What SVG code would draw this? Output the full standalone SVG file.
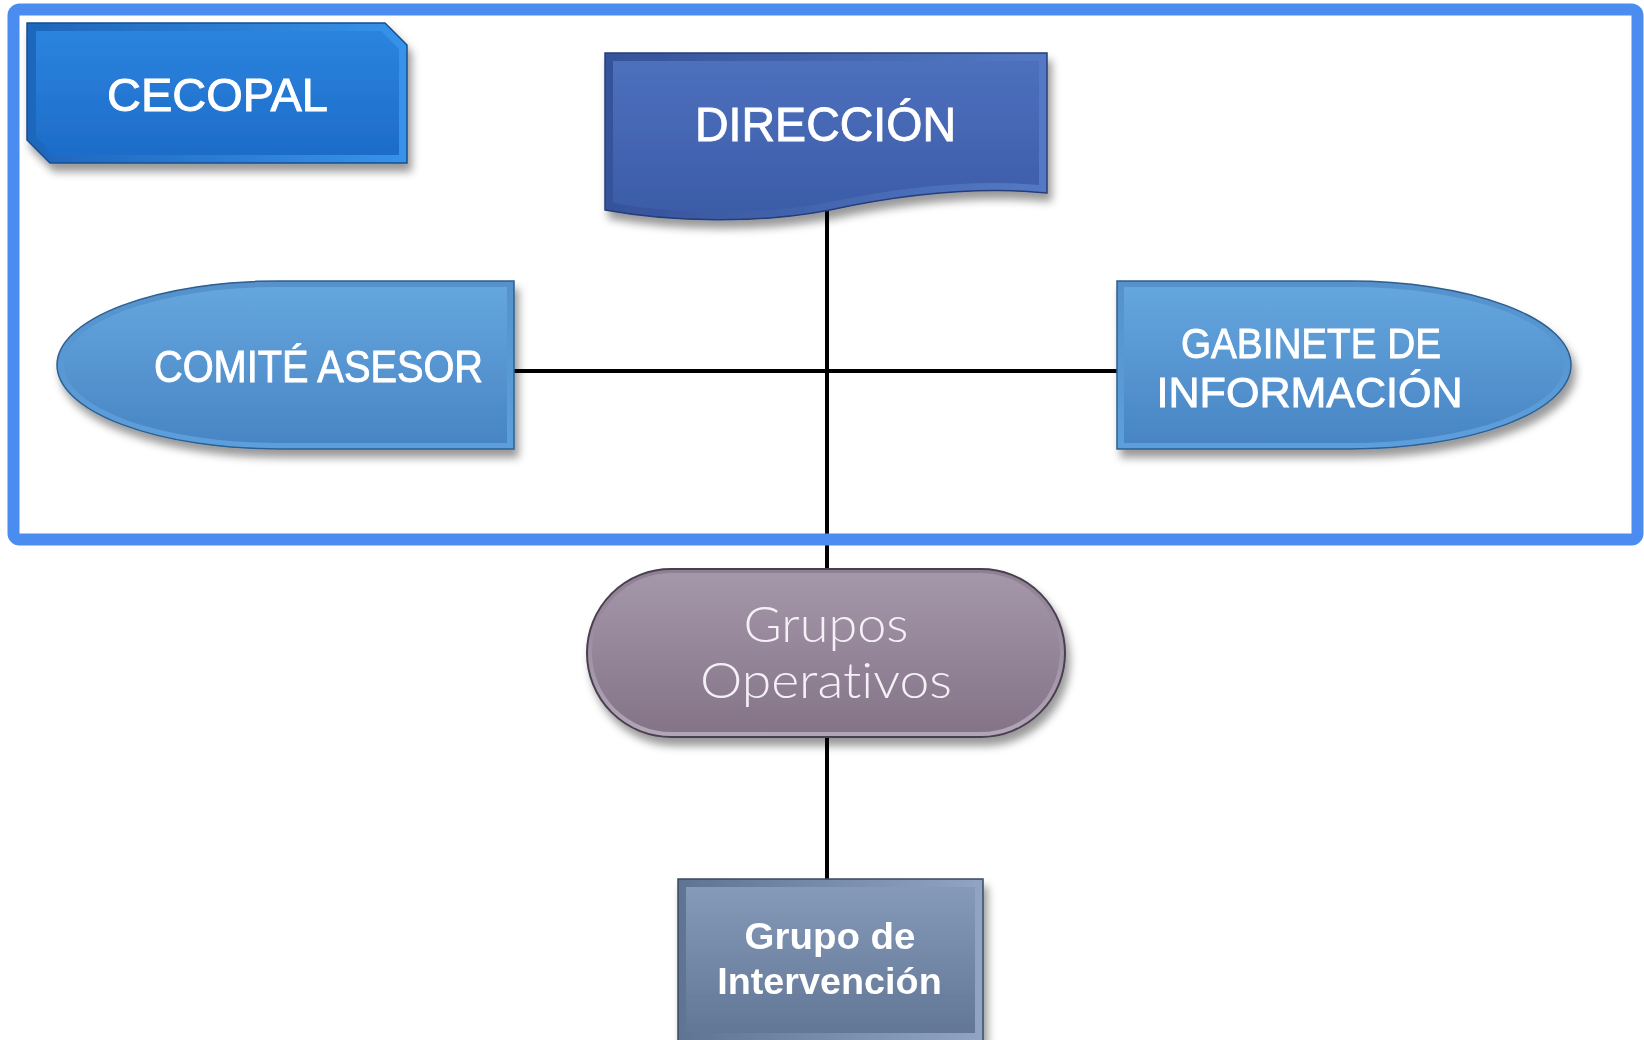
<svg xmlns="http://www.w3.org/2000/svg" width="1644" height="1040" viewBox="0 0 1644 1040">
  <defs>
    <filter id="shadow" x="-10%" y="-20%" width="125%" height="150%">
      <feDropShadow dx="4" dy="8" stdDeviation="4" flood-color="#000" flood-opacity="0.4"/>
    </filter>
    <linearGradient id="cecEdge" x1="0" y1="0" x2="1" y2="0">
      <stop offset="0" stop-color="#1e66bc"/>
      <stop offset="1" stop-color="#3793ea"/>
    </linearGradient>
    <linearGradient id="cecFace" x1="0" y1="0" x2="0" y2="1">
      <stop offset="0" stop-color="#2c84de"/>
      <stop offset="1" stop-color="#1d6cc8"/>
    </linearGradient>
    <linearGradient id="dirEdge" x1="0" y1="0" x2="1" y2="0">
      <stop offset="0" stop-color="#35529a"/>
      <stop offset="1" stop-color="#5479c4"/>
    </linearGradient>
    <linearGradient id="dirFace" x1="0" y1="0" x2="0" y2="1">
      <stop offset="0" stop-color="#4d70bd"/>
      <stop offset="1" stop-color="#3c5ca8"/>
    </linearGradient>
    <linearGradient id="lbEdge" x1="0" y1="0" x2="0" y2="1">
      <stop offset="0" stop-color="#5592cc"/>
      <stop offset="1" stop-color="#5c9fdc"/>
    </linearGradient>
    <linearGradient id="lbFace" x1="0" y1="0" x2="0" y2="1">
      <stop offset="0" stop-color="#65a6de"/>
      <stop offset="1" stop-color="#4885c4"/>
    </linearGradient>
    <linearGradient id="goFace" x1="0" y1="0" x2="0" y2="1">
      <stop offset="0" stop-color="#a597aa"/>
      <stop offset="1" stop-color="#857488"/>
    </linearGradient>
    <linearGradient id="goEdge" x1="0" y1="0" x2="0" y2="1">
      <stop offset="0" stop-color="#8e7f93"/>
      <stop offset="1" stop-color="#b3a6b8"/>
    </linearGradient>
    <linearGradient id="giFace" x1="0" y1="0" x2="0" y2="1">
      <stop offset="0" stop-color="#8599b8"/>
      <stop offset="1" stop-color="#627696"/>
    </linearGradient>
    <linearGradient id="giEdge" x1="0" y1="0" x2="1" y2="0">
      <stop offset="0" stop-color="#5f7392"/>
      <stop offset="1" stop-color="#91a4c4"/>
    </linearGradient>
  </defs>
  <style>
    .cap { font-family: "Liberation Sans", Arial, sans-serif; fill: #ffffff; stroke: #ffffff; stroke-width: 0.9; text-anchor: middle; }
    .light { font-family: Lato, "Open Sans", sans-serif; font-weight: 300; fill: #f4f0f6; text-anchor: middle; font-variant-ligatures: none; }
    .bold { font-family: "Liberation Sans", Arial, sans-serif; font-weight: bold; fill: #ffffff; text-anchor: middle; }
    .conn { stroke: #000; stroke-width: 4; fill: none; }
  </style>
  <rect width="1644" height="1040" fill="#ffffff"/>

  <g id="connectors">
    <line class="conn" x1="827" y1="205" x2="827" y2="880"/>
    <line class="conn" x1="514" y1="371" x2="1117" y2="371"/>
  </g>

  <g id="frame">
    <rect x="13.5" y="9.5" width="1624" height="530" rx="6" fill="none" stroke="#4a8cf0" stroke-width="12"/>
  </g>

  <g id="cecopal" filter="url(#shadow)">
    <polygon points="27,23 385,23 407,45 407,163 50,163 27,140" fill="url(#cecEdge)" stroke="#174d8c" stroke-width="1.5"/>
    <polygon points="36,31 381,31 399,49 399,155 53,155 36,137" fill="url(#cecFace)"/>
    <text class="cap" x="217.5" y="111" font-size="46" textLength="221" lengthAdjust="spacingAndGlyphs">CECOPAL</text>
  </g>

  <g id="direccion" filter="url(#shadow)">
    <path d="M605,53 H1047 V193 C975,186 900,195 830,210 C760,224 670,222 605,210 Z" fill="url(#dirEdge)" stroke="#263e78" stroke-width="1.5"/>
    <path d="M613,61 H1039 V185 C970,179 900,188 830,202 C760,216 670,214 613,203 Z" fill="url(#dirFace)"/>
    <text class="cap" x="825.5" y="140.5" font-size="48" textLength="261" lengthAdjust="spacingAndGlyphs">DIRECCIÓN</text>
  </g>

  <g id="comite" filter="url(#shadow)">
    <path d="M514,281 V449 H278 A221,84 0 0 1 278,281 Z" fill="url(#lbEdge)" stroke="#2d5f8f" stroke-width="1.5"/>
    <path d="M507,287 V443 H278 A214,78 0 0 1 278,287 Z" fill="url(#lbFace)"/>
    <text class="cap" x="318.5" y="381.7" font-size="44" textLength="329" lengthAdjust="spacingAndGlyphs">COMITÉ ASESOR</text>
  </g>

  <g id="gabinete" filter="url(#shadow)">
    <path d="M1117,281 H1350 A221,84 0 0 1 1350,449 H1117 Z" fill="url(#lbEdge)" stroke="#2d5f8f" stroke-width="1.5"/>
    <path d="M1124,287 H1350 A214,78 0 0 1 1350,443 H1124 Z" fill="url(#lbFace)"/>
    <text class="cap" x="1311" y="357.5" font-size="43" textLength="260" lengthAdjust="spacingAndGlyphs">GABINETE DE</text>
    <text class="cap" x="1309.6" y="406.8" font-size="43" textLength="306" lengthAdjust="spacingAndGlyphs">INFORMACIÓN</text>
  </g>

  <g id="grupos-operativos" filter="url(#shadow)">
    <rect x="587" y="569" width="478" height="168" rx="84" fill="url(#goEdge)" stroke="#4a4050" stroke-width="2"/>
    <rect x="592" y="573" width="468" height="159" rx="79.5" fill="url(#goFace)"/>
    <text class="light" x="826" y="642" font-size="50" textLength="165" lengthAdjust="spacingAndGlyphs">Grupos</text>
    <text class="light" x="826" y="698" font-size="50" textLength="252" lengthAdjust="spacingAndGlyphs">Operativos</text>
  </g>

  <g id="grupo-intervencion" filter="url(#shadow)">
    <rect x="678" y="879" width="305" height="170" fill="url(#giEdge)" stroke="#3a4a62" stroke-width="1.5"/>
    <rect x="686" y="887" width="289" height="146" fill="url(#giFace)"/>
    <text class="bold" x="830" y="949" font-size="36" textLength="171" lengthAdjust="spacingAndGlyphs">Grupo de</text>
    <text class="bold" x="829.5" y="994" font-size="36" textLength="224.5" lengthAdjust="spacingAndGlyphs">Intervención</text>
  </g>
</svg>
